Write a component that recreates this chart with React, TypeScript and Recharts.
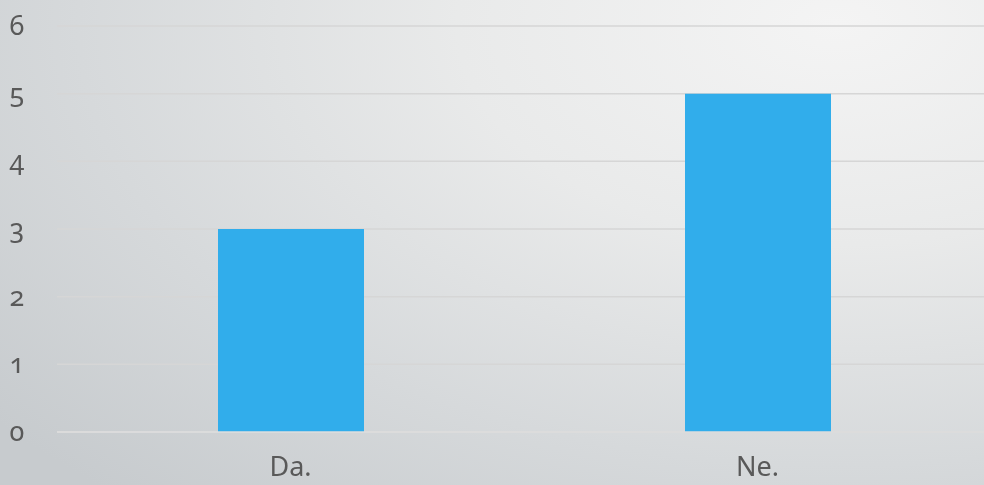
import { BarChart, Bar, XAxis, YAxis, CartesianGrid } from "recharts";

const categories = ["Da.", "Ne."];
const counts = [3, 5];
const yTicks = [0, 1, 2, 3, 4, 5, 6];

const data = categories.map((name, i) => ({ name, value: counts[i] }));

const FONT = "'Noto Sans', Lato, sans-serif";
const TEXT = "#595959";

function YTick({ y, payload }: any) {
  return (
    <text
      x={17}
      y={y + 9}
      textAnchor="middle"
      fill={TEXT}
      fontSize={27}
      fontFamily={FONT}
      style={{ fontFeatureSettings: "'onum' 1", fontVariantNumeric: "oldstyle-nums" }}
    >
      {payload.value}
    </text>
  );
}

function XTick({ x, y, payload }: any) {
  return (
    <text x={x} y={y + 36} textAnchor="middle" fill={TEXT} fontSize={27} fontFamily={FONT}>
      {payload.value}
    </text>
  );
}

export default function App() {
  return (
    <div
      style={{
        position: "fixed",
        top: 0,
        left: 0,
        width: 984,
        height: 485,
        overflow: "hidden",
        background:
          "radial-gradient(ellipse 110% 130% at 85% 5%, #f4f4f4 0%, #e9eaea 35%, #d6d9db 70%, #c7cbce 100%)",
      }}
    >
      <BarChart
        width={1000}
        height={485}
        data={data}
        margin={{ top: 26, right: 9, left: 0, bottom: 0 }}
      >
        <CartesianGrid horizontal vertical={false} stroke="#d6d6d6" strokeWidth={1.5} />
        <XAxis
          dataKey="name"
          height={53}
          axisLine={{ stroke: "#dedede", strokeWidth: 1.5 }}
          tickLine={false}
          tick={<XTick />}
          interval={0}
        />
        <YAxis
          width={57}
          domain={[0, 6]}
          ticks={yTicks}
          axisLine={false}
          tickLine={false}
          tick={<YTick />}
        />
        <Bar dataKey="value" fill="#31adeb" barSize={146} isAnimationActive={false} />
      </BarChart>
    </div>
  );
}
